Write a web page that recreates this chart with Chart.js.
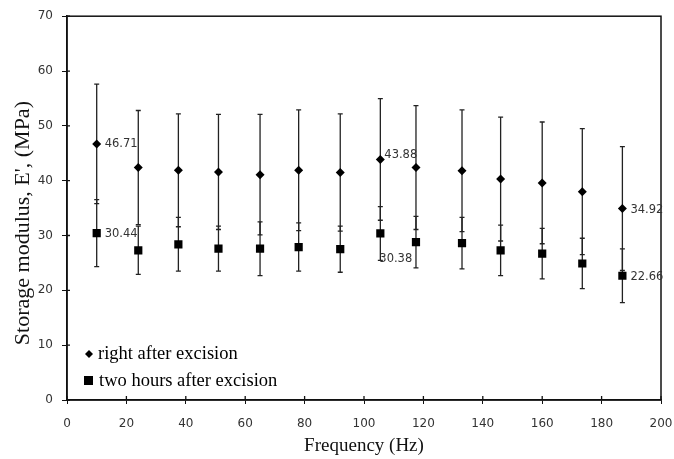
<!DOCTYPE html>
<html>
<head>
<meta charset="utf-8">
<script src="https://cdn.jsdelivr.net/npm/chart.js@4.4.1/dist/chart.umd.min.js"></script>
<style>
  html, body { margin: 0; padding: 0; background: #fff; }
  #wrap { width: 674px; height: 459px; }
</style>
</head>
<body>
<div id="wrap"><canvas id="modulus-chart" width="674" height="459"></canvas></div>
<script>
// Fréquences (Hz)
const frequencies = [10, 24, 37.5, 51, 65, 78, 92, 105.5, 117.5, 133, 146, 160, 173.5, 187];

// right after excision : moyenne et écart
const rightAfter    = [46.71, 42.4, 41.9, 41.6, 41.1, 41.9, 41.5, 43.88, 42.4, 41.8, 40.3, 39.6, 38.0, 34.92];
const rightAfterErr = [10.9, 10.4, 10.3, 10.5, 11.0, 11.0, 10.7, 11.1, 11.3, 11.1, 11.3, 11.1, 11.5, 11.3];

// two hours after excision : moyenne et écart
const twoHours    = [30.44, 27.3, 28.4, 27.6, 27.6, 27.9, 27.5, 30.38, 28.8, 28.6, 27.3, 26.7, 24.9, 22.66];
const twoHoursErr = [6.1, 4.4, 4.9, 4.1, 4.9, 4.4, 4.2, 4.9, 4.7, 4.7, 4.6, 4.6, 4.6, 4.9];

const seriesNames = ['right after excision', 'two hours after excision'];
const yTitle = "Storage modulus, E', (MPa)";
// points qui portent une étiquette de valeur
const labelledPoints = [0, 7, 13];

const toPoints = (ys) => frequencies.map((f, i) => ({ x: f, y: ys[i] }));

// barres d'erreur, dessinées avant les marqueurs
const errorBars = {
    id: 'errorBars',
    beforeDatasetsDraw(chart) {
        const ctx = chart.ctx;
        const xs = chart.scales.x, ys = chart.scales.y;
        ctx.save();
        ctx.strokeStyle = '#222';
        ctx.lineWidth = 1.3;
        chart.data.datasets.forEach(ds => {
            ds.data.forEach((p, i) => {
                const x = xs.getPixelForValue(p.x);
                const top = ys.getPixelForValue(p.y + ds.errors[i]);
                const bot = ys.getPixelForValue(p.y - ds.errors[i]);
                ctx.beginPath();
                ctx.moveTo(x, top); ctx.lineTo(x, bot);
                ctx.moveTo(x - 2.5, top); ctx.lineTo(x + 2.5, top);
                ctx.moveTo(x - 2.5, bot); ctx.lineTo(x + 2.5, bot);
                ctx.stroke();
            });
        });
        ctx.restore();
    }
};

// cadre, petits traits intérieurs, titre Y, étiquettes de valeurs et légende
const extras = {
    id: 'extras',
    afterDraw(chart) {
        const ctx = chart.ctx;
        const area = chart.chartArea;
        ctx.save();
        ctx.strokeStyle = '#111';
        ctx.lineWidth = 1.5;
        ctx.strokeRect(area.left, area.top, area.right - area.left, area.bottom - area.top);

        // graduations qui traversent l'axe
        ctx.lineWidth = 1.3;
        ctx.beginPath();
        chart.scales.x.ticks.forEach(t => {
            const x = chart.scales.x.getPixelForValue(t.value);
            ctx.moveTo(x, area.bottom); ctx.lineTo(x, area.bottom - 4);
        });
        chart.scales.y.ticks.forEach(t => {
            const y = chart.scales.y.getPixelForValue(t.value);
            ctx.moveTo(area.left, y); ctx.lineTo(area.left + 3, y);
        });
        ctx.stroke();

        // titre de l'axe Y
        ctx.save();
        ctx.translate(23, (area.top + area.bottom) / 2 + 15);
        ctx.rotate(-Math.PI / 2);
        ctx.fillStyle = '#111';
        ctx.font = '22px "Liberation Serif"';
        ctx.textAlign = 'center';
        ctx.textBaseline = 'middle';
        ctx.fillText(yTitle, 0, 0);
        ctx.restore();

        // étiquettes
        const offsets = [
            [[8, 0], [4, -4], [8, 1]],
            [[8, 1], [-1, 26], [8, 1]]
        ];
        ctx.font = '11.5px "DejaVu Sans"';
        ctx.fillStyle = '#333';
        ctx.textAlign = 'left';
        ctx.textBaseline = 'middle';
        chart.data.datasets.forEach((ds, d) => {
            const meta = chart.getDatasetMeta(d);
            labelledPoints.forEach((idx, k) => {
                const el = meta.data[idx];
                ctx.fillText(ds.data[idx].y.toFixed(2), el.x + offsets[d][k][0], el.y + offsets[d][k][1]);
            });
        });

        // légende
        ctx.fillStyle = '#000';
        ctx.font = '18.5px "Liberation Serif"';
        const lx = area.left + 22, ly = area.bottom - 46;
        ctx.beginPath();
        ctx.moveTo(lx, ly - 4); ctx.lineTo(lx + 4, ly); ctx.lineTo(lx, ly + 4); ctx.lineTo(lx - 4, ly);
        ctx.closePath();
        ctx.fill();
        ctx.fillText(seriesNames[0], lx + 9, ly);
        ctx.fillRect(lx - 5, ly + 22, 9, 9);
        ctx.fillText(seriesNames[1], lx + 10, ly + 27);
        ctx.restore();
    }
};

const ctx = document.getElementById('modulus-chart').getContext('2d');

const chart = new Chart(ctx, {
    type: 'scatter',
    data: {
        datasets: [{
            label: seriesNames[0],
            data: toPoints(rightAfter),
            errors: rightAfterErr,
            pointStyle: 'rectRot',
            pointRadius: 4.5,
            backgroundColor: '#000',
            borderColor: '#000',
            borderWidth: 0
        }, {
            label: seriesNames[1],
            data: toPoints(twoHours),
            errors: twoHoursErr,
            pointStyle: 'rect',
            pointRadius: 5.8,
            backgroundColor: '#000',
            borderColor: '#000',
            borderWidth: 0
        }]
    },
    options: {
        responsive: false,
        animation: false,
        layout: { padding: { left: 0, right: 0, top: 15, bottom: 0 } },
        plugins: {
            legend: { display: false },
            tooltip: { enabled: false }
        },
        scales: {
            x: {
                type: 'linear',
                min: 0,
                max: 200,
                ticks: { stepSize: 20, padding: 13, color: '#333', font: { family: 'DejaVu Sans', size: 12 } },
                grid: { drawOnChartArea: false, tickLength: 4, color: '#111' },
                border: { color: '#111', width: 1.5 },
                title: { display: true, text: 'Frequency (Hz)', color: '#111', font: { family: 'Liberation Serif', size: 19 }, padding: { top: 4, bottom: 2 } },
                afterFit: (s) => { s.height = 59; s.paddingRight = 13; s.paddingLeft = 0; }
            },
            y: {
                min: 0,
                max: 70,
                ticks: { stepSize: 10, padding: 9, color: '#333', font: { family: 'DejaVu Sans', size: 12 } },
                grid: { drawOnChartArea: false, tickLength: 5, color: '#111' },
                border: { color: '#111', width: 1.5 },
                afterFit: (s) => { s.width = 67; }
            }
        }
    },
    plugins: [errorBars, extras]
});
</script>
</body>
</html>
